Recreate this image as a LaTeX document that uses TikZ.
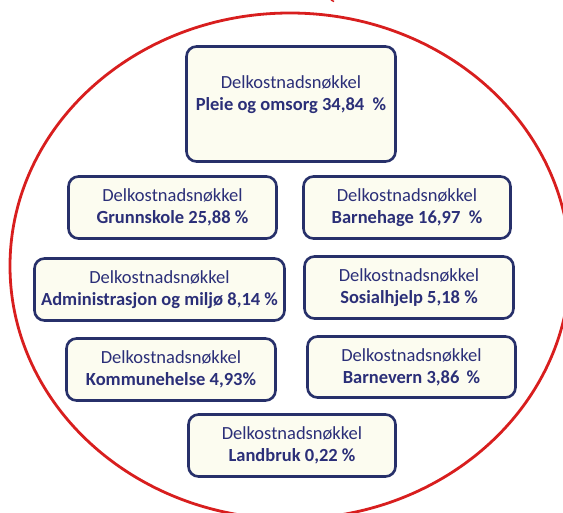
\documentclass[tikz,border=0pt]{standalone}
\usepackage{fontspec}
\setmainfont{Carlito}
\definecolor{navy}{HTML}{2B2F78}
\definecolor{boxline}{HTML}{27306A}
\definecolor{boxfill}{HTML}{FCFCF0}
\definecolor{ringred}{HTML}{D81E1E}
\begin{document}
\begin{tikzpicture}[x=1pt,y=-1pt,
  keybox/.style={draw=boxline, line width=2.6pt, fill=boxfill, rounded corners=10pt,
    text=navy, align=center, font=\fontsize{18.5}{22}\selectfont, inner sep=0pt,
    minimum height=62pt},
]
\useasboundingbox (0,0) rectangle (563,513);
\begin{scope}
  \clip (0,0) rectangle (563,513);
  \draw[ringred, line width=2.8pt] (290,266) ellipse [x radius=280, y radius=253];
  \draw[ringred, line width=1.5pt] (331,0) -- (334,1.5);
\end{scope}
\node[keybox, minimum width=209pt, minimum height=115pt] (pleie) at (291,104)
  {Delkostnadsnøkkel\\\textbf{Pleie og omsorg 34,84~~\%}\\\mbox{}};
\node[keybox, minimum width=208pt] (grunn) at (172.5,207.5)
  {Delkostnadsnøkkel\\\textbf{Grunnskole 25,88 \%}};
\node[keybox, minimum width=207pt] (barnehage) at (407,207.5)
  {Delkostnadsnøkkel\\\textbf{Barnehage 16,97~~\%}};
\node[keybox, minimum width=250pt] (admin) at (159.5,289.5)
  {Delkostnadsnøkkel\\\textbf{Administrasjon og miljø 8,14~\%}};
\node[keybox, minimum width=209pt] (sosial) at (409,287.5)
  {Delkostnadsnøkkel\\\textbf{Sosialhjelp 5,18 \%}};
\node[keybox, minimum width=209pt] (kommune) at (171,369.5)
  {Delkostnadsnøkkel\\\textbf{Kommunehelse 4,93\%}};
\node[keybox, minimum width=208pt, minimum height=61pt] (barnevern) at (411.5,367)
  {Delkostnadsnøkkel\\\textbf{Barnevern 3,86~\,\%}};
\node[keybox, minimum width=207pt] (landbruk) at (292,445.5)
  {Delkostnadsnøkkel\\\textbf{Landbruk 0,22 \%}};
\end{tikzpicture}
\end{document}
